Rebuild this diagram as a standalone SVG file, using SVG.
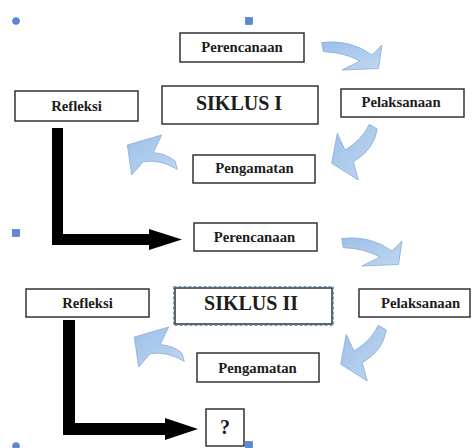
<svg xmlns="http://www.w3.org/2000/svg" width="472" height="448" viewBox="0 0 472 448">
<defs>
<style>
.box{fill:#fff;stroke:#333;stroke-width:1.5}
.t{font-family:"Liberation Serif","Times New Roman",serif;font-weight:bold;font-size:14.7px;fill:#1c1c1c;text-anchor:middle}
.big{font-size:20px}
.cv{fill:url(#g);stroke:#88acd8;stroke-width:0.8}
.blk{fill:#000}
.h{fill:#5a8ad6;stroke:#4372c4;stroke-width:0.6}
</style>
<linearGradient id="g" x1="0" y1="0" x2="1" y2="1">
<stop offset="0" stop-color="#9dc0e8"/>
<stop offset="1" stop-color="#c0d7f0"/>
</linearGradient>
<path id="ca" d="M321.7,42.5 Q350,39 372,55 L382,45 L378.5,68.5 L342,70 L360,61 Q343,52 323.3,51.7 Z"/>
<path id="cb" d="M369.3,124.3 L377.3,129 Q374,150 353.3,161.7 L358.3,180 L331.7,163.3 L337.3,133.3 L345,150 Q362,140 369.3,124.3 Z"/>
<path id="cc" d="M175,161 L177.3,169.3 Q160,159 143.3,161.7 L131.7,175 L127.3,145 L161.7,135 L153.3,152.7 Q165,153 175,161 Z"/>
</defs>
<rect width="472" height="448" fill="#fff"/>
<g id="handles">
<circle class="h" cx="16" cy="21" r="3.5"/>
<rect class="h" x="245.5" y="17.5" width="7" height="7"/>
<rect class="h" x="12.5" y="229.5" width="7" height="7"/>
<circle class="h" cx="16" cy="446" r="3.5"/>
<rect class="h" x="245.5" y="441.5" width="7" height="7"/>
</g>
<g id="connectors">
<use href="#ca" class="cv"/>
<use href="#cb" class="cv"/>
<use href="#cc" class="cv"/>
<use href="#ca" class="cv" transform="translate(20,196)"/>
<use href="#cb" class="cv" transform="translate(9,201)"/>
<use href="#cc" class="cv" transform="translate(7,192)"/>
<polygon class="blk" points="52,128 63,128 63,234 149,234 149,229 182,239.5 149,250 149,245 52,245"/>
<polygon class="blk" points="63,320 75,320 75,423 165,423 165,418 198,429 165,440 165,435 63,435"/>
</g>
<g id="perencanaan1"><rect class="box" x="180" y="33" width="124" height="29"/><text class="t" x="242" y="52">Perencanaan</text></g>
<g id="siklus1"><rect class="box" x="162" y="86" width="156" height="38"/><text class="t big" x="239" y="110">SIKLUS I</text></g>
<g id="refleksi1"><rect class="box" x="15" y="91" width="123" height="30"/><text class="t" x="76.5" y="110.5">Refleksi</text></g>
<g id="pelaksanaan1"><rect class="box" x="341" y="89" width="123" height="28"/><text class="t" x="401" y="107">Pelaksanaan</text></g>
<g id="pengamatan1"><rect class="box" x="193" y="155" width="122" height="28"/><text class="t" x="254.5" y="173">Pengamatan</text></g>
<g id="perencanaan2"><rect class="box" x="194" y="223" width="123" height="28"/><text class="t" x="254.5" y="242">Perencanaan</text></g>
<g id="refleksi2"><rect class="box" x="26" y="289" width="123" height="28"/><text class="t" x="87.5" y="307.5">Refleksi</text></g>
<g id="siklus2"><rect class="box" x="175" y="288" width="157" height="36"/><rect x="173.5" y="286.5" width="160" height="39" fill="none" stroke="#6f9be0" stroke-width="1" stroke-dasharray="3,2"/><text class="t big" x="251" y="310">SIKLUS II</text></g>
<g id="pelaksanaan2"><rect class="box" x="359" y="289" width="111" height="28"/><text class="t" x="381" y="307.5" style="text-anchor:start">Pelaksanaan</text></g>
<g id="pengamatan2"><rect class="box" x="197" y="353" width="122" height="29"/><text class="t" x="257.5" y="373">Pengamatan</text></g>
<g id="question"><rect class="box" x="206" y="409" width="38" height="37"/><text class="t big" x="225" y="434">?</text></g>
</svg>
